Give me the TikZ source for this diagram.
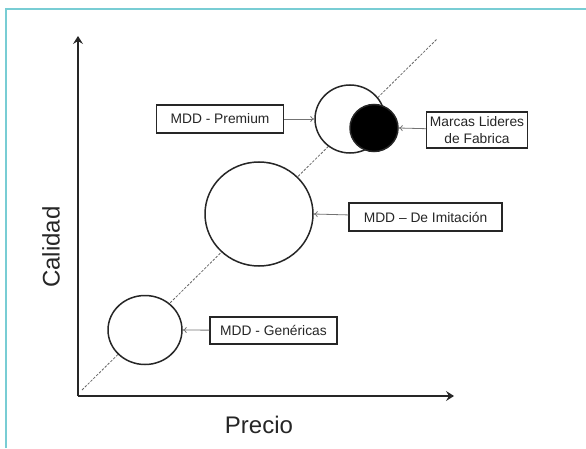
\documentclass[tikz,border=0pt]{standalone}
\usepackage{fontspec}
\setmainfont{Liberation Sans}
\usetikzlibrary{positioning,shapes.geometric,arrows.meta}
\definecolor{marco}{RGB}{120,205,212}

\begin{document}
\begin{tikzpicture}[x=1pt, y=1pt, >={Stealth[length=8pt,width=10pt,inset=3pt]},
	segmento/.style={ellipse, draw=black!85, line width=1.5pt, fill=white, inner sep=0pt},
	etiqueta/.style={rectangle, draw=black!85, line width=1.4pt, fill=white, inner sep=0pt, text=black!85, font=\fontsize{13.8}{15}\selectfont},
	flecha/.style={draw=black!55, line width=0.8pt, -{To[length=4pt,width=6pt]}}]
	\useasboundingbox (0,0) rectangle (586,448);
	% marco
	\draw[marco, line width=2.5pt] (6,0) -- (6,439) -- (586,439);
	% ejes
	\coordinate (O) at (78,52);
	\draw[black!85, line width=2.3pt, ->] (O) -- (78,412);
	\draw[black!85, line width=2.3pt, ->] (O) -- (454,52);
	\node[text=black!85, font=\fontsize{24}{26}\selectfont] (precio) at (259,23) {Precio};
	\node[text=black!85, font=\fontsize{24}{26}\selectfont, rotate=90] (calidad) at (51,201) {Calidad};
	\draw[black!60, line width=0.8pt, dash pattern=on 2.5pt off 1.5pt] (82,58) -- (437,409);
	
	\node[segmento, minimum width=70, minimum height=68] (prem) at (350,329) {};
	\node[segmento, fill=black, minimum width=48, minimum height=47] (lider) at (374,320) {};
	\node[segmento, minimum width=108, minimum height=104] (imit) at (259,234) {};
	\node[segmento, minimum width=74, minimum height=69] (gen) at (145,118) {};
	
	\node[etiqueta, minimum width=127, minimum height=28] (tprem) at (220,329) {MDD - Premium};
	\node[etiqueta, minimum width=101, minimum height=36, align=center, font=\fontsize{13.8}{17}\selectfont] (tlider) at (477,318) {Marcas Lideres\\de Fabrica};
	\node[etiqueta, minimum width=153, minimum height=28] (timit) at (425.5,231) {MDD -- De Imitación};
	\node[etiqueta, minimum width=127, minimum height=27] (tgen) at (273.5,117.5) {MDD - Genéricas};
	
	\path[flecha] (tprem) edge (prem.west)
	(tlider) edge (lider.east)
	(timit) edge (imit.east)
	(tgen) edge (gen.east);
\end{tikzpicture}
\end{document}
